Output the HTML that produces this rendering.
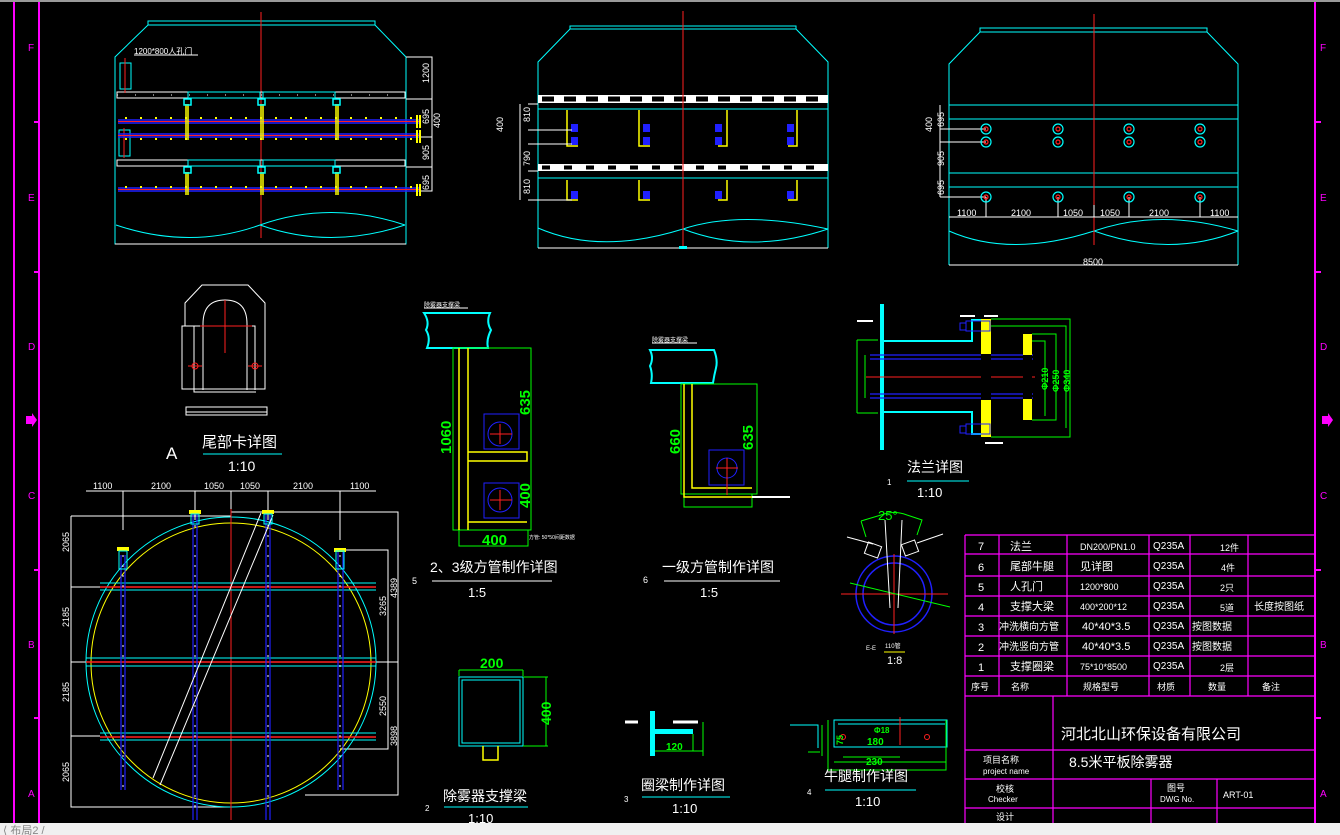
<!DOCTYPE html>
<html><head><meta charset="utf-8"><style>
html,body{margin:0;padding:0;background:#000;width:1340px;height:835px;overflow:hidden}
svg{display:block}
text{font-family:"Liberation Sans","WenQuanYi Zen Hei",sans-serif}
</style></head><body>
<svg width="1340" height="835" viewBox="0 0 1340 835" xmlns="http://www.w3.org/2000/svg">
<rect width="1340" height="835" fill="#000"/>
<rect x="0" y="0" width="1340" height="2" fill="#9a9a9a"/>
<!-- frame -->
<g stroke="#ff00ff" stroke-width="2" fill="none">
<line x1="14" y1="2" x2="14" y2="823"/><line x1="39" y1="2" x2="39" y2="823"/>
<line x1="1315" y1="2" x2="1315" y2="823"/>
<line x1="34" y1="122" x2="39" y2="122"/><line x1="34" y1="272" x2="39" y2="272"/><line x1="34" y1="570" x2="39" y2="570"/><line x1="34" y1="718" x2="39" y2="718"/>
<line x1="1315" y1="122" x2="1321" y2="122"/><line x1="1315" y1="272" x2="1321" y2="272"/><line x1="1315" y1="570" x2="1321" y2="570"/><line x1="1315" y1="718" x2="1321" y2="718"/>
</g>
<g fill="#ff00ff" font-size="10">
<text x="28" y="51">F</text><text x="28" y="201">E</text><text x="28" y="350">D</text><text x="28" y="499">C</text><text x="28" y="648">B</text><text x="28" y="797">A</text>
<text x="1320" y="51">F</text><text x="1320" y="201">E</text><text x="1320" y="350">D</text><text x="1320" y="499">C</text><text x="1320" y="648">B</text><text x="1320" y="797">A</text>
</g>
<path d="M26 416 h6 v-3 l5 7 l-5 7 v-3 h-6z" fill="#ff00ff"/>
<path d="M1322 416 h6 v-3 l5 7 l-5 7 v-3 h-6z" fill="#ff00ff"/>

<!-- ===== top-left view ===== -->
<g fill="none" stroke-width="1">
<path d="M115 244 V57 L148 25 H375 L406 57 V244 Z" stroke="#00ffff"/>
<path d="M148 21 H375 V25 H148Z" stroke="#00ffff"/>
<line x1="115" y1="244" x2="406" y2="244" stroke="#fff"/>
<line x1="261" y1="12" x2="261" y2="238" stroke="#ff2020"/>
<rect x="117" y="92" width="288" height="6" stroke="#fff"/>
<rect x="117" y="160" width="288" height="6" stroke="#fff"/>
<line x1="117" y1="95" x2="405" y2="95" stroke="#fff" stroke-dasharray="1 17"/>
<rect x="188" y="92" width="72" height="6" stroke="#00ffff"/>
<rect x="263" y="92" width="72" height="6" stroke="#00ffff"/>
<rect x="188" y="160" width="72" height="6" stroke="#00ffff"/>
<rect x="263" y="160" width="72" height="6" stroke="#00ffff"/>
<path d="M406 57 H432 V191 H406 M406 99 H432 M406 137 H432 M406 167 H432" stroke="#fff"/>
<path d="M116 225 Q190 250 260 225 Q330 200 405 225 M260 225 Q330 250 405 225" stroke="#00ffff"/>
<rect x="120" y="63" width="11" height="26" stroke="#00ffff"/>
<rect x="119" y="130" width="11" height="26" stroke="#00ffff"/>
<line x1="125" y1="58" x2="125" y2="93" stroke="#ff2020"/>
<line x1="124" y1="128" x2="124" y2="158" stroke="#ff2020"/>
<text x="134" y="54" fill="#fff" stroke="none" font-size="8">1200*800人孔门</text>
<line x1="134" y1="55" x2="198" y2="55" stroke="#fff"/>
</g>
<g stroke-width="1.5" fill="none">
<line x1="118" y1="120" x2="420" y2="120" stroke="#2020ff"/><line x1="118" y1="123" x2="420" y2="123" stroke="#2020ff"/><line x1="118" y1="121.5" x2="420" y2="121.5" stroke="#ff2020" stroke-width="1"/>
<line x1="118" y1="134" x2="420" y2="134" stroke="#2020ff"/><line x1="118" y1="137" x2="420" y2="137" stroke="#2020ff"/><line x1="118" y1="135.5" x2="420" y2="135.5" stroke="#ff2020" stroke-width="1"/>
<line x1="118" y1="188" x2="420" y2="188" stroke="#2020ff"/><line x1="118" y1="191" x2="420" y2="191" stroke="#2020ff"/><line x1="118" y1="189.5" x2="420" y2="189.5" stroke="#ff2020" stroke-width="1"/>
<line x1="125" y1="118" x2="415" y2="118" stroke="#ffff00" stroke-width="2" stroke-dasharray="2 13"/>
<line x1="125" y1="139" x2="415" y2="139" stroke="#ffff00" stroke-width="2" stroke-dasharray="2 13"/>
<line x1="125" y1="187" x2="415" y2="187" stroke="#ffff00" stroke-width="2" stroke-dasharray="2 13"/>
<path d="M186 104 V140 M188 104 V140 M261 104 V140 M263 104 V140 M336 104 V140 M338 104 V140 M186 172 V195 M188 172 V195 M261 172 V195 M263 172 V195 M336 172 V195 M338 172 V195" stroke="#ffff00"/>
<path d="M417 115 V128 M420 115 V128 M417 130 V143 M420 130 V143 M417 184 V196 M420 184 V196" stroke="#ffff00" stroke-width="2"/>
<rect x="184" y="99" width="7" height="6" stroke="#00ffff"/><rect x="258" y="99" width="7" height="6" stroke="#00ffff"/><rect x="333" y="99" width="7" height="6" stroke="#00ffff"/>
<rect x="184" y="167" width="7" height="6" stroke="#00ffff"/><rect x="258" y="167" width="7" height="6" stroke="#00ffff"/><rect x="333" y="167" width="7" height="6" stroke="#00ffff"/>
</g>
<g fill="#fff" font-size="9">
<text transform="translate(429,83) rotate(-90)">1200</text>
<text transform="translate(429,124) rotate(-90)">695</text>
<text transform="translate(440,128) rotate(-90)">400</text>
<text transform="translate(429,160) rotate(-90)">905</text>
<text transform="translate(429,190) rotate(-90)">695</text>
</g>

<!-- ===== top-middle view ===== -->
<g fill="none" stroke="#00ffff">
<path d="M538 248 V62 L570 29 H796 L828 62 V248" />
<path d="M570 26 H796 V29 H570Z"/>
<line x1="538" y1="109" x2="828" y2="109"/><line x1="538" y1="178" x2="828" y2="178"/>
<path d="M538 228 Q600 255 683 229 Q740 210 828 229 M683 229 Q750 255 828 229"/>
</g>
<line x1="538" y1="248" x2="828" y2="248" stroke="#fff"/>
<rect x="538" y="95" width="290" height="8" fill="#fff"/>
<line x1="542" y1="99" x2="828" y2="99" stroke="#000" stroke-width="5" stroke-dasharray="12 10"/>
<rect x="538" y="164" width="290" height="7" fill="#fff"/>
<line x1="542" y1="167.5" x2="828" y2="167.5" stroke="#000" stroke-width="4" stroke-dasharray="8 14"/>
<line x1="683" y1="11" x2="683" y2="246" stroke="#ff2020"/>
<rect x="679" y="246" width="8" height="3" fill="#00ffff"/>
<g stroke="#ffff00" stroke-width="1.5" fill="none">
<path d="M567 110 V146 H578 M639 110 V146 H650 M727 110 V146 H718 M797 110 V146 H788"/>
<path d="M567 180 V200 H578 M639 180 V200 H650 M727 180 V200 H718 M797 180 V200 H788"/>
</g>
<g fill="#2020ff">
<rect x="571" y="124" width="7" height="8"/><rect x="571" y="137" width="7" height="8"/><rect x="643" y="124" width="7" height="8"/><rect x="643" y="137" width="7" height="8"/>
<rect x="715" y="124" width="7" height="8"/><rect x="715" y="137" width="7" height="8"/><rect x="787" y="124" width="7" height="8"/><rect x="787" y="137" width="7" height="8"/>
<rect x="571" y="191" width="7" height="8"/><rect x="643" y="191" width="7" height="8"/><rect x="715" y="191" width="7" height="8"/><rect x="787" y="191" width="7" height="8"/>
</g>
<g stroke="#fff" fill="none"><path d="M528 104 H538 M520 104 V200 M528 130 H572 M528 144 H572 M528 200 H572 M528 171 H538"/></g>
<g fill="#fff" font-size="9">
<text transform="translate(530,122) rotate(-90)">810</text>
<text transform="translate(530,166) rotate(-90)">790</text>
<text transform="translate(530,194) rotate(-90)">810</text>
<text transform="translate(503,132) rotate(-90)">400</text>
</g>

<!-- ===== top-right view ===== -->
<g fill="none" stroke="#00ffff">
<path d="M949 265 V64 L980 32 H1207 L1238 64 V265"/>
<path d="M980 28 H1207 V32 H980Z"/>
<line x1="949" y1="105" x2="1238" y2="105"/><line x1="949" y1="119" x2="1238" y2="119"/>
<line x1="949" y1="173" x2="1238" y2="173"/><line x1="949" y1="187" x2="1238" y2="187"/>
<path d="M949 231 Q1010 258 1094 231 Q1160 208 1238 231 M1094 231 Q1170 258 1238 231"/>
</g>
<line x1="1094" y1="14" x2="1094" y2="245" stroke="#ff2020"/>
<g stroke="#fff" fill="none"><path d="M949 217 H1238 M949 265 H1238 M940 105 V197 M940 129 H986 M940 142 H986 M940 197 H986 M986 197 V217 M1058 197 V217 M1129 197 V217 M1200 197 V217 M1094 205 V217"/></g>
<g fill="none" stroke-width="1.2">
<g stroke="#00ffff"><circle cx="986" cy="129" r="5"/><circle cx="1058" cy="129" r="5"/><circle cx="1129" cy="129" r="5"/><circle cx="1200" cy="129" r="5"/><circle cx="986" cy="142" r="5"/><circle cx="1058" cy="142" r="5"/><circle cx="1129" cy="142" r="5"/><circle cx="1200" cy="142" r="5"/><circle cx="986" cy="197" r="5"/><circle cx="1058" cy="197" r="5"/><circle cx="1129" cy="197" r="5"/><circle cx="1200" cy="197" r="5"/></g>
<g stroke="#ff2020"><circle cx="986" cy="129" r="2"/><circle cx="1058" cy="129" r="2"/><circle cx="1129" cy="129" r="2"/><circle cx="1200" cy="129" r="2"/><circle cx="986" cy="142" r="2"/><circle cx="1058" cy="142" r="2"/><circle cx="1129" cy="142" r="2"/><circle cx="1200" cy="142" r="2"/><circle cx="986" cy="197" r="2"/><circle cx="1058" cy="197" r="2"/><circle cx="1129" cy="197" r="2"/><circle cx="1200" cy="197" r="2"/></g>
</g>
<g fill="#fff" font-size="9">
<text x="957" y="216">1100</text><text x="1011" y="216">2100</text><text x="1063" y="216">1050</text><text x="1100" y="216">1050</text><text x="1149" y="216">2100</text><text x="1210" y="216">1100</text>
<text x="1083" y="265">8500</text>
<text transform="translate(944,127) rotate(-90)">695</text>
<text transform="translate(932,132) rotate(-90)">400</text>
<text transform="translate(944,166) rotate(-90)">905</text>
<text transform="translate(944,195) rotate(-90)">695</text>
</g>

<!-- ===== tail detail A ===== -->
<g fill="none" stroke="#fff">
<path d="M185 303 L202 285 H248 L265 303 V389 H182 V326 H185 Z"/>
<path d="M203 390 V324 Q203 300 225 300 Q247 300 247 324 V390"/>
<path d="M182 326 H200 M246 326 H255 V390 M194 326 V392 H256"/>
<rect x="186" y="407" width="81" height="8"/><line x1="186" y1="412" x2="267" y2="412"/>
</g>
<g stroke="#ff2020" fill="none"><line x1="225" y1="300" x2="225" y2="353"/><line x1="200" y1="326" x2="252" y2="326"/><circle cx="195" cy="366" r="3"/><circle cx="255" cy="366" r="3"/><line x1="188" y1="366" x2="202" y2="366"/><line x1="248" y1="366" x2="262" y2="366"/></g>
<text x="202" y="447" fill="#fff" font-size="15">尾部卡详图</text>
<line x1="203" y1="454" x2="282" y2="454" stroke="#00ffff"/>
<text x="228" y="471" fill="#fff" font-size="14">1:10</text>
<text x="166" y="459" fill="#fff" font-size="17">A</text>

<!-- ===== circular plan ===== -->
<g fill="none">
<path d="M86 491 H376 M123 491 V530 M195 491 V520 M268 491 V520 M340 491 V540 M231 491 V509" stroke="#fff"/>
<path d="M71 516 H231 M71 516 V807 H231 M71 587 H100 M71 662 H90 M71 736 H100 M340 550 H388 V749 H340 M231 512 H398 V795 H305 M376 662 H398" stroke="#fff"/>
<ellipse cx="231" cy="662" rx="145" ry="145" stroke="#00ffff"/>
<ellipse cx="231" cy="663" rx="140" ry="140" stroke="#ffff00"/>
<line x1="231" y1="509" x2="231" y2="820" stroke="#ff2020"/>
<path d="M100 583 H376 M100 590 H376 M86 658 H376 M86 666 H376 M100 733 H376 M100 740 H376" stroke="#00ffff"/>
<path d="M86 662 H376 M100 587 H376 M100 737 H376" stroke="#ff2020" stroke-width="1.5"/>
<g stroke="#2020ff" stroke-width="1.2"><path d="M121 555 V790 M125 555 V790 M193 510 V820 M197 510 V820 M266 510 V820 M270 510 V820 M338 548 V790 M343 548 V790"/></g>
<g stroke="#fff" stroke-dasharray="2 8"><path d="M123 555 V790 M195 515 V815 M268 515 V815 M340 555 V790"/></g>
<path d="M153 778 L261 513 M160 785 L273 515" stroke="#fff"/>
<g fill="#ffff00"><rect x="117" y="547" width="12" height="4"/><rect x="189" y="510" width="12" height="4"/><rect x="262" y="510" width="12" height="4"/><rect x="334" y="548" width="12" height="4"/></g>
<g stroke="#00ffff"><rect x="119" y="551" width="8" height="18"/><rect x="191" y="514" width="8" height="10"/><rect x="264" y="514" width="8" height="10"/><rect x="336" y="551" width="8" height="18"/></g>
</g>
<g fill="#fff" font-size="9">
<text x="93" y="489">1100</text><text x="151" y="489">2100</text><text x="204" y="489">1050</text><text x="240" y="489">1050</text><text x="293" y="489">2100</text><text x="350" y="489">1100</text>
<text transform="translate(69,552) rotate(-90)">2065</text>
<text transform="translate(69,627) rotate(-90)">2185</text>
<text transform="translate(69,702) rotate(-90)">2185</text>
<text transform="translate(69,782) rotate(-90)">2065</text>
<text transform="translate(386,616) rotate(-90)">3265</text>
<text transform="translate(397,598) rotate(-90)">4389</text>
<text transform="translate(386,716) rotate(-90)">2550</text>
<text transform="translate(397,746) rotate(-90)">3898</text>
<text x="412" y="584">5</text>
</g>

<!-- ===== 2,3 level pipe ===== -->
<path d="M424 313 H490 Q486 322 491 330 Q486 340 488 348 H427 Q431 338 426 330 Q430 322 424 313Z" fill="none" stroke="#00ffff" stroke-width="2"/>
<text x="424" y="307" fill="#fff" font-size="6">除雾器支撑梁</text>
<line x1="424" y1="308" x2="468" y2="308" stroke="#fff"/>
<g fill="none" stroke="#00ff00"><rect x="453" y="348" width="78" height="182"/><path d="M459 530 V546 H528 V530"/></g>
<g fill="none" stroke="#ffff00" stroke-width="1.5"><path d="M459 348 V530 M468 348 V530 M468 452 H527 V461 H468 M468 522 H527"/></g>
<g fill="none" stroke="#2020ff"><rect x="484" y="414" width="35" height="35"/><circle cx="500" cy="434" r="12"/><rect x="484" y="483" width="35" height="35"/><circle cx="500" cy="500" r="12"/></g>
<g stroke="#ff2020"><path d="M490 434 H512 M500 424 V444 M490 500 H512 M500 490 V510"/></g>
<g fill="#00ff00" font-size="15" font-weight="bold">
<text transform="translate(451,454) rotate(-90)">1060</text>
<text transform="translate(530,415) rotate(-90)">635</text>
<text transform="translate(530,508) rotate(-90)">400</text>
<text x="482" y="545">400</text>
</g>
<text x="529" y="539" fill="#fff" font-size="5">方管: 50*50间距数据</text>
<text x="430" y="572" fill="#fff" font-size="14">2、3级方管制作详图</text>
<line x1="432" y1="581" x2="552" y2="581" stroke="#fff"/>
<text x="468" y="597" fill="#fff" font-size="13">1:5</text>

<!-- ===== 1 level pipe ===== -->
<path d="M650 350 H714 Q718 360 716 368 Q714 376 713 383 H651 Q653 374 650 366 Q654 358 650 350Z" fill="none" stroke="#00ffff" stroke-width="2"/>
<text x="652" y="342" fill="#fff" font-size="6">除雾器支撑梁</text>
<line x1="652" y1="343" x2="697" y2="343" stroke="#fff"/>
<g fill="none" stroke="#00ff00"><rect x="681" y="384" width="76" height="110"/><path d="M684 494 V507 H752 V494"/></g>
<g fill="none" stroke="#ffff00" stroke-width="1.5"><path d="M684 384 V497 H752 M692 384 V488 H752"/></g>
<g fill="none" stroke="#2020ff"><rect x="709" y="450" width="35" height="35"/><circle cx="727" cy="468" r="10"/></g>
<g stroke="#ff2020"><path d="M716 468 H738 M727 458 V495"/></g>
<line x1="752" y1="497" x2="790" y2="497" stroke="#fff" stroke-width="2"/>
<g fill="#00ff00" font-size="15" font-weight="bold">
<text transform="translate(680,454) rotate(-90)">660</text>
<text transform="translate(753,450) rotate(-90)">635</text>
</g>
<text x="662" y="572" fill="#fff" font-size="14">一级方管制作详图</text>
<line x1="664" y1="581" x2="780" y2="581" stroke="#fff"/>
<text x="700" y="597" fill="#fff" font-size="13">1:5</text>
<text x="643" y="583" fill="#fff" font-size="9">6</text>

<!-- ===== flange ===== -->
<rect x="880" y="304" width="4" height="146" fill="#00ffff"/>
<g fill="none" stroke="#00ffff" stroke-width="2"><path d="M884 341 H972 V320 H982 M884 412 H972 V434 H982"/></g>
<g stroke="#2020ff" stroke-width="1.2"><path d="M870 355 H1033 M870 359 H1033 M870 394 H1033 M870 398 H1033"/></g>
<line x1="866" y1="377" x2="1035" y2="377" stroke="#ff2020"/>
<rect x="981" y="319" width="10" height="118" fill="#ffff00"/>
<rect x="981" y="354" width="10" height="46" fill="#000"/>
<rect x="1023" y="334" width="9" height="86" fill="#ffff00"/>
<rect x="1023" y="355" width="9" height="44" fill="#000"/>
<g fill="none" stroke="#2020ff"><rect x="966" y="321" width="24" height="10"/><rect x="966" y="424" width="24" height="10"/><rect x="960" y="323" width="6" height="7"/><rect x="960" y="426" width="6" height="7"/></g>
<g fill="none" stroke="#00ff00"><path d="M857 340 V413 M857 340 H878 M857 413 H878 M865 355 V398 M991 319 H1070 V437 H991 M991 326 H1066 V428 M1032 334 H1056 V420 H1032 M1032 341 H1045 V416"/></g>
<g fill="#00ff00" font-size="9" font-weight="bold">
<text transform="translate(1048,390) rotate(-90)">Φ210</text>
<text transform="translate(1059,392) rotate(-90)">Φ250</text>
<text transform="translate(1070,392) rotate(-90)">Φ340</text>
</g>
<g stroke="#fff" stroke-width="2"><path d="M857 321 H873 M960 316 H975 M984 316 H998 M985 443 H1003"/></g>
<text x="907" y="472" fill="#fff" font-size="14">法兰详图</text>
<line x1="907" y1="481" x2="969" y2="481" stroke="#00ffff"/>
<text x="917" y="497" fill="#fff" font-size="13">1:10</text>
<text x="887" y="485" fill="#fff" font-size="8">1</text>

<!-- ===== E-E ===== -->
<g fill="none">
<circle cx="894" cy="594" r="38" stroke="#2020ff" stroke-width="1.5"/>
<circle cx="894" cy="594" r="31" stroke="#2020ff" stroke-width="1.5"/>
<path d="M841 594 H948 M894 554 V634" stroke="#ff2020"/>
<path d="M850 583 L950 607" stroke="#00ff00"/>
<path d="M861 521 L881 515 Q894 510 907 515 L922 520 L917 535 M861 521 L866 537" stroke="#00ff00"/>
<path d="M847 537 L873 544 M943 534 L917 543 M885 520 L890 608 M902 520 L898 608" stroke="#fff"/>
<rect x="866" y="544" width="14" height="12" stroke="#fff" transform="rotate(20 873 550)"/>
<rect x="903" y="542" width="14" height="12" stroke="#fff" transform="rotate(-20 910 548)"/>
</g>
<text x="878" y="520" fill="#00ff00" font-size="13">25°</text>
<text x="866" y="650" fill="#fff" font-size="6">E-E</text>
<text x="885" y="648" fill="#fff" font-size="6">110管</text>
<line x1="884" y1="652" x2="905" y2="652" stroke="#ffff00"/>
<text x="887" y="664" fill="#fff" font-size="11">1:8</text>

<!-- ===== beam 2 ===== -->
<g fill="none" stroke="#00ffff"><rect x="459" y="677" width="64" height="69"/><rect x="462" y="680" width="58" height="63"/></g>
<path d="M483 746 V760 H498 V746" fill="none" stroke="#ffff00" stroke-width="1.5"/>
<g fill="none" stroke="#00ff00"><path d="M459 670 V676 M523 670 V676 M459 670 H523 M523 677 H548 M523 746 H548 M546 677 V746"/></g>
<text x="480" y="668" fill="#00ff00" font-size="14" font-weight="bold">200</text>
<text transform="translate(551,725) rotate(-90)" fill="#00ff00" font-size="14" font-weight="bold">400</text>
<text x="443" y="801" fill="#fff" font-size="14">除雾器支撑梁</text>
<line x1="444" y1="807" x2="528" y2="807" stroke="#00ffff"/>
<text x="468" y="823" fill="#fff" font-size="13">1:10</text>
<text x="425" y="811" fill="#fff" font-size="8">2</text>

<!-- ===== beam 3 ===== -->
<rect x="650" y="711" width="5" height="45" fill="#00ffff"/>
<rect x="655" y="729" width="38" height="5" fill="#00ffff"/>
<g fill="none" stroke="#00ff00"><path d="M655 751 H703 M693 734 V751 M703 722 V756"/></g>
<g stroke="#fff" stroke-width="3"><path d="M625 722 H638 M673 722 H698"/></g>
<text x="666" y="750" fill="#00ff00" font-size="10" font-weight="bold">120</text>
<text x="641" y="790" fill="#fff" font-size="14">圈梁制作详图</text>
<line x1="642" y1="797" x2="730" y2="797" stroke="#00ffff"/>
<text x="672" y="813" fill="#fff" font-size="13">1:10</text>
<text x="624" y="802" fill="#fff" font-size="8">3</text>

<!-- ===== beam 4 ===== -->
<g fill="none" stroke="#00ffff"><rect x="834" y="720" width="113" height="27"/><path d="M838 724 H945 M790 725 H818 V748"/></g>
<g fill="none" stroke="#00ff00"><path d="M828 720 V770 H946 V720 M843 757 H900 M834 762 H946 M808 752 H820 M822 725 V756"/></g>
<line x1="900" y1="717" x2="900" y2="745" stroke="#ff2020"/>
<g stroke="#ff2020" fill="none"><circle cx="843" cy="737" r="2.5"/><circle cx="927" cy="737" r="2.5"/></g>
<text x="867" y="745" fill="#00ff00" font-size="10" font-weight="bold">180</text>
<text x="866" y="765" fill="#00ff00" font-size="10" font-weight="bold">230</text>
<text x="874" y="733" fill="#00ff00" font-size="8" font-weight="bold">Φ18</text>
<text transform="translate(843,745) rotate(-90)" fill="#00ff00" font-size="9" font-weight="bold">75</text>
<text x="824" y="781" fill="#fff" font-size="14">牛腿制作详图</text>
<line x1="825" y1="790" x2="916" y2="790" stroke="#00ffff"/>
<text x="855" y="806" fill="#fff" font-size="13">1:10</text>
<text x="807" y="795" fill="#fff" font-size="8">4</text>

<!-- ===== table ===== -->
<g fill="none" stroke="#ff00ff" stroke-width="1.2">
<path d="M965 535 H1315 M965 554 H1315 M965 576 H1315 M965 596 H1315 M965 616 H1315 M965 636 H1315 M965 656 H1315 M965 676 H1315 M965 696 H1315 M965 750 H1315 M965 779 H1315 M965 808 H1315"/>
<path d="M965 535 V823 M999 535 V696 M1067 535 V696 M1149 535 V696 M1190 535 V696 M1248 535 V696 M1053 696 V823 M1151 779 V823 M1217 779 V823"/>
</g>
<g fill="#fff" font-size="11">
<text x="978" y="550">7</text><text x="978" y="571">6</text><text x="978" y="591">5</text><text x="978" y="611">4</text><text x="978" y="631">3</text><text x="978" y="651">2</text><text x="978" y="671">1</text>
<text x="1010" y="550">法兰</text><text x="1010" y="570">尾部牛腿</text><text x="1010" y="590">人孔门</text><text x="1010" y="610">支撑大梁</text>
<text x="999" y="630" font-size="10">冲洗横向方管</text><text x="999" y="650" font-size="10">冲洗竖向方管</text><text x="1010" y="670">支撑圈梁</text>
<text x="1080" y="550" font-size="9">DN200/PN1.0</text><text x="1080" y="570">见详图</text><text x="1080" y="590" font-size="9">1200*800</text><text x="1080" y="610" font-size="9">400*200*12</text>
<text x="1082" y="630">40*40*3.5</text><text x="1082" y="650">40*40*3.5</text><text x="1080" y="670" font-size="9">75*10*8500</text>
<text x="1153" y="549" font-size="10">Q235A</text><text x="1153" y="569" font-size="10">Q235A</text><text x="1153" y="589" font-size="10">Q235A</text><text x="1153" y="609" font-size="10">Q235A</text><text x="1153" y="629" font-size="10">Q235A</text><text x="1153" y="649" font-size="10">Q235A</text><text x="1153" y="669" font-size="10">Q235A</text>
<text x="1220" y="551" font-size="9">12件</text><text x="1221" y="571" font-size="9">4件</text><text x="1220" y="591" font-size="9">2只</text><text x="1220" y="611" font-size="9">5道</text>
<text x="1192" y="630" font-size="10">按图数据</text><text x="1192" y="650" font-size="10">按图数据</text><text x="1220" y="671" font-size="9">2层</text>
<text x="1254" y="610" font-size="10">长度按图纸</text>
<text x="971" y="690" font-size="9">序号</text><text x="1011" y="690" font-size="9">名称</text><text x="1083" y="690" font-size="9">规格型号</text><text x="1157" y="690" font-size="9">材质</text><text x="1208" y="690" font-size="9">数量</text><text x="1262" y="690" font-size="9">备注</text>
<text x="1061" y="739" font-size="15">河北北山环保设备有限公司</text>
<text x="983" y="763" font-size="9">项目名称</text><text x="983" y="774" font-size="8">project name</text>
<text x="1069" y="767" font-size="14">8.5米平板除雾器</text>
<text x="996" y="792" font-size="9">校核</text><text x="988" y="802" font-size="8">Checker</text>
<text x="1167" y="791" font-size="9">图号</text><text x="1160" y="802" font-size="8">DWG No.</text>
<text x="1223" y="798" font-size="9">ART-01</text>
<text x="996" y="820" font-size="9">设计</text>
</g>

<!-- bottom bar -->
<rect x="0" y="823" width="1340" height="12" fill="#f0f0f0"/>
<text x="3" y="834" fill="#888" font-size="11">⟨ 布局2 /</text>
</svg>
</body></html>
